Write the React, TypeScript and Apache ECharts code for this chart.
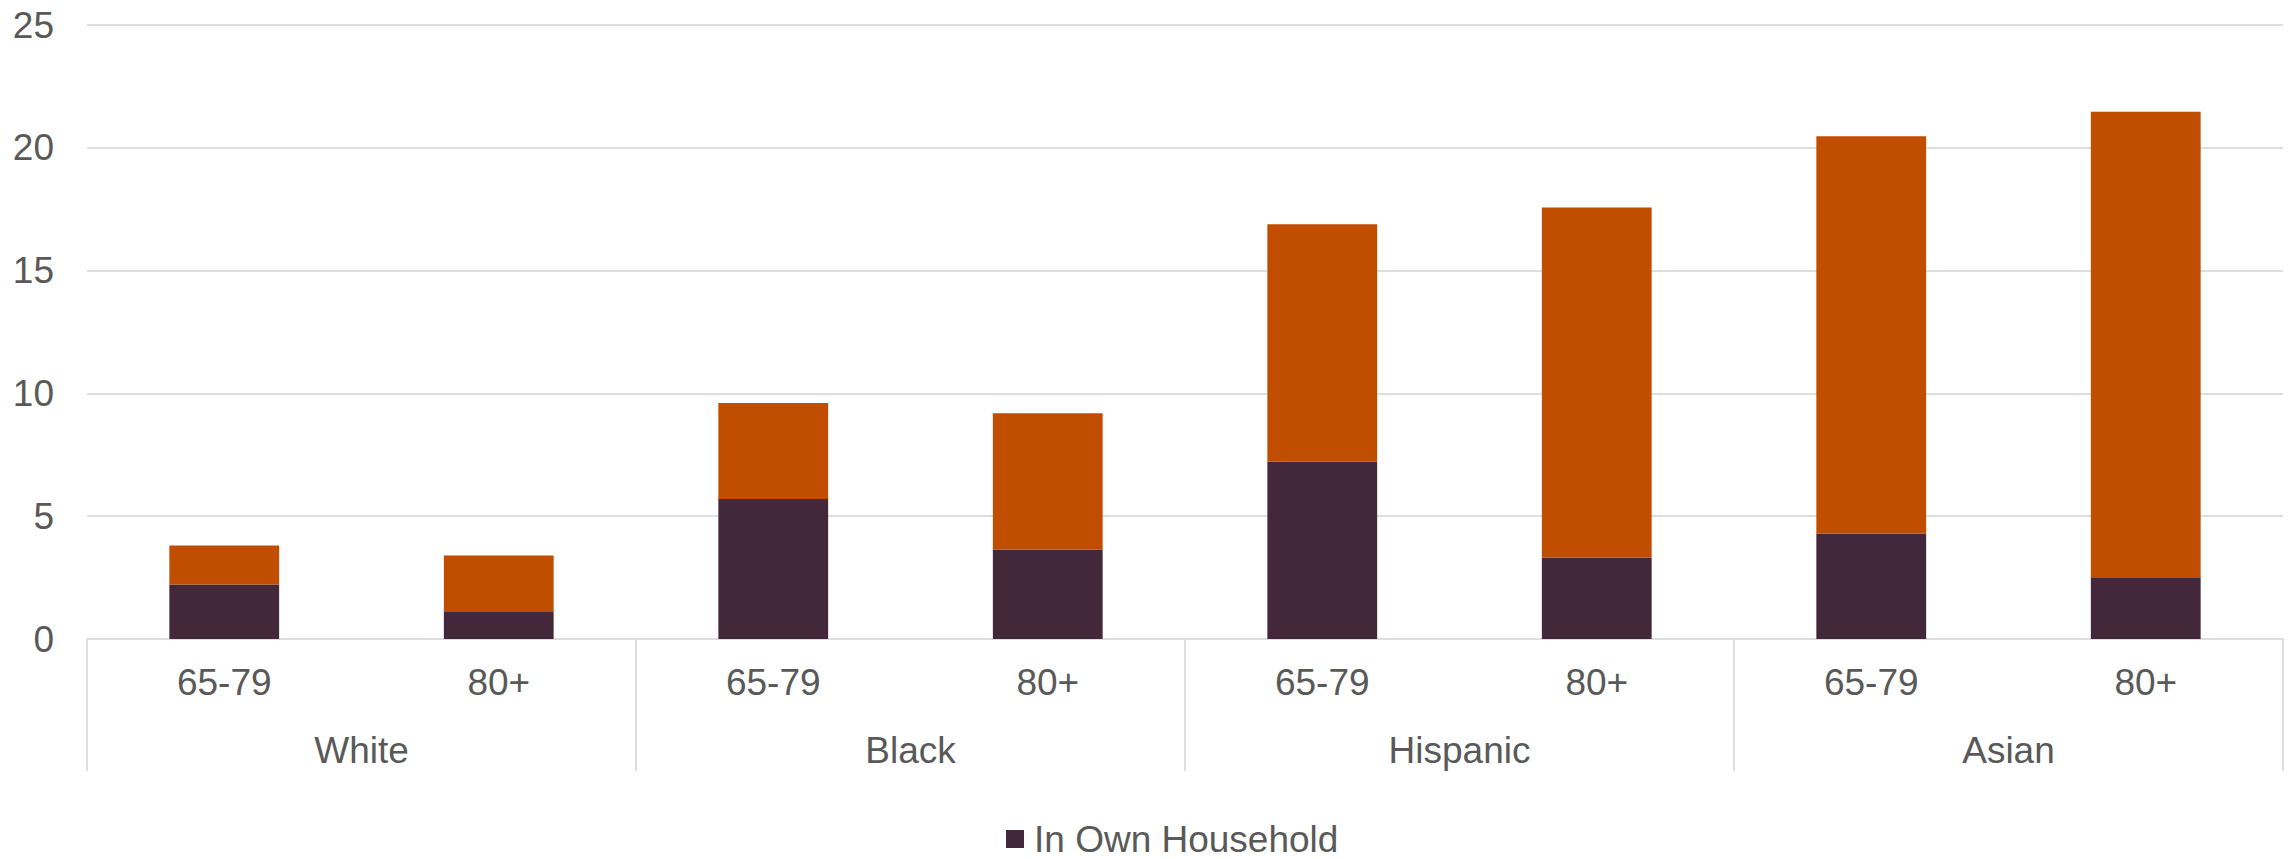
import React, { useEffect, useRef } from "react";
import * as echarts from "echarts";

const ageGroups = ["65-79", "80+", "65-79", "80+", "65-79", "80+", "65-79", "80+"];
const raceGroups = ["White", "Black", "Hispanic", "Asian"];
const inOwnHousehold = [2.22, 1.13, 5.7, 3.64, 7.22, 3.32, 4.3, 2.51];
const notInOwnHousehold = [1.59, 2.27, 3.91, 5.55, 9.67, 14.25, 16.17, 18.96];
const yTicks = { min: 0, max: 25, interval: 5 };

const TEXT = "#595959";
const LINE = "#dedede";
const FONT = "'Liberation Sans', Arial, sans-serif";

export default function App() {
  const ref = useRef<HTMLDivElement>(null);
  useEffect(() => {
    if (!ref.current) return;
    const chart = echarts.init(ref.current, undefined, { renderer: "svg" });
    chart.setOption({
      animation: false,
      textStyle: { fontFamily: FONT },
      grid: { left: 87, right: 10, top: 25, bottom: 220 },
      legend: {
        data: ["In Own Household"],
        left: 1006,
        top: 820,
        padding: 0,
        icon: "rect",
        itemWidth: 18,
        itemHeight: 18,
        textStyle: { fontSize: 37, lineHeight: 38, color: TEXT, fontFamily: FONT, padding: [0, 0, 0, 5] },
      },
      xAxis: [
        {
          type: "category",
          data: ageGroups,
          position: "bottom",
          axisLine: { show: true, lineStyle: { color: LINE, width: 2 } },
          axisTick: { show: false },
          axisLabel: { fontSize: 37, color: TEXT, margin: 25, interval: 0, fontFamily: FONT },
        },
        {
          type: "category",
          data: raceGroups,
          position: "bottom",
          axisLine: { show: false },
          axisTick: { show: true, length: 132, lineStyle: { color: LINE, width: 2 } },
          axisLabel: { fontSize: 37, color: TEXT, margin: 93, interval: 0, fontFamily: FONT },
        },
      ],
      yAxis: {
        type: "value",
        min: yTicks.min,
        max: yTicks.max,
        interval: yTicks.interval,
        axisLine: { show: false },
        axisTick: { show: false },
        splitLine: { lineStyle: { color: LINE, width: 2 } },
        axisLabel: { fontSize: 37, color: TEXT, margin: 33, fontFamily: FONT },
      },
      series: [
        {
          name: "In Own Household",
          type: "bar",
          stack: "total",
          xAxisIndex: 0,
          barWidth: "40%",
          data: inOwnHousehold,
          itemStyle: { color: "#43283B" },
        },
        {
          name: "Not In Own Household",
          type: "bar",
          stack: "total",
          xAxisIndex: 0,
          barWidth: "40%",
          data: notInOwnHousehold,
          itemStyle: { color: "#C04D00" },
        },
      ],
    });
    return () => chart.dispose();
  }, []);
  return (
    <div
      ref={ref}
      style={{ position: "fixed", left: 0, top: 0, width: 2293, height: 859, background: "#fff" }}
    />
  );
}
